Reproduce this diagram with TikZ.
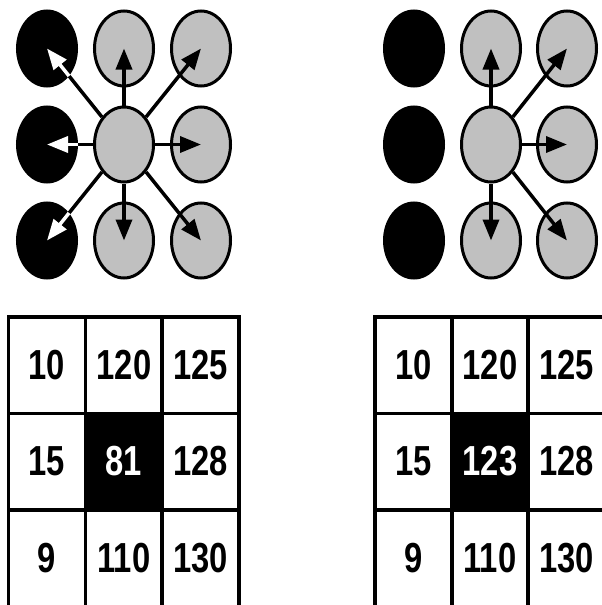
\documentclass[tikz,border=0pt]{standalone}
\usepackage{fontspec}
\setmainfont{Liberation Sans}
\newfontfamily\numfont[FakeStretch=0.78]{Liberation Sans}
\usepackage{xcolor}
\definecolor{pixgray}{RGB}{192,192,192}
\usetikzlibrary{arrows.meta,shapes.geometric}
\tikzset{
  %% pixels as ellipses
  pixdot/.style={ellipse, draw=black, line width=3pt, fill=pixgray,
                 minimum width=59pt, minimum height=75pt, inner sep=0pt},
  pixdark/.style={pixdot, fill=black},
  %% neighbour links
  link/.style={line width=3.5pt, -{Triangle[length=21pt,width=16pt]}},
  linkpart/.style={line width=3.5pt},
  linkwhite/.style={link, white},
  %% value grid
  cell/.style={draw, line width=3.5pt, minimum width=77pt, minimum height=96.5pt,
               inner sep=0pt, font={\numfont\bfseries\fontsize{42}{42}\selectfont}},
  celldark/.style={cell, fill=black, text=white},
}
\begin{document}
\begin{tikzpicture}[x=1pt,y=-1pt]
\useasboundingbox (0,0) rectangle (602,605);

%% left pixels
\node[pixdark] (dotL-nw) at (47,48.5) {};
\node[pixdot]  (dotL-n)  at (124,48.5) {};
\node[pixdot]  (dotL-ne) at (201,48.5) {};
\node[pixdark] (dotL-w)  at (47,144.5) {};
\node[pixdot]  (dotL-c)  at (124,144.5) {};
\node[pixdot]  (dotL-e)  at (201,144.5) {};
\node[pixdark] (dotL-sw) at (47,240.5) {};
\node[pixdot]  (dotL-s)  at (124,240.5) {};
\node[pixdot]  (dotL-se) at (201,240.5) {};

\foreach \d in {n,ne,e,s,se}
  \draw[link] (dotL-c) -- (dotL-\d.center);
\foreach \d in {nw,w,sw}{
  \draw[linkpart] (dotL-c) -- coordinate[pos=1] (edgeL-\d) (dotL-\d);
  \draw[linkwhite] (edgeL-\d) -- (dotL-\d.center);
}

%% right pixels
\node[pixdark] (dotR-nw) at (414,48.5) {};
\node[pixdot]  (dotR-n)  at (491,48.5) {};
\node[pixdot]  (dotR-ne) at (567,48.5) {};
\node[pixdark] (dotR-w)  at (414,144.5) {};
\node[pixdot]  (dotR-c)  at (491,144.5) {};
\node[pixdot]  (dotR-e)  at (567,144.5) {};
\node[pixdark] (dotR-sw) at (414,240.5) {};
\node[pixdot]  (dotR-s)  at (491,240.5) {};
\node[pixdot]  (dotR-se) at (567,240.5) {};

\foreach \d in {n,ne,e,s,se}
  \draw[link] (dotR-c) -- (dotR-\d.center);

%% left grid
\foreach \nm/\x/\y/\t in {nw/47/365/10, n/124/365/120, ne/200.5/365/125,
                          w/47/461.5/15, e/200.5/461.5/128,
                          sw/47/558/9, s/124/558/110, se/200.5/558/130}
  \node[cell] (cellL-\nm) at (\x,\y) {\t};
\node[celldark] (cellL-c) at (124,461.5) {81};

%% right grid
\foreach \nm/\x/\y/\t in {nw/413.5/365/10, n/490/365/120, ne/566.5/365/125,
                          w/413.5/461.5/15, e/566.5/461.5/128,
                          sw/413.5/558/9, s/490/558/110, se/566.5/558/130}
  \node[cell] (cellR-\nm) at (\x,\y) {\t};
\node[celldark] (cellR-c) at (490,461.5) {123};
\end{tikzpicture}
\end{document}
